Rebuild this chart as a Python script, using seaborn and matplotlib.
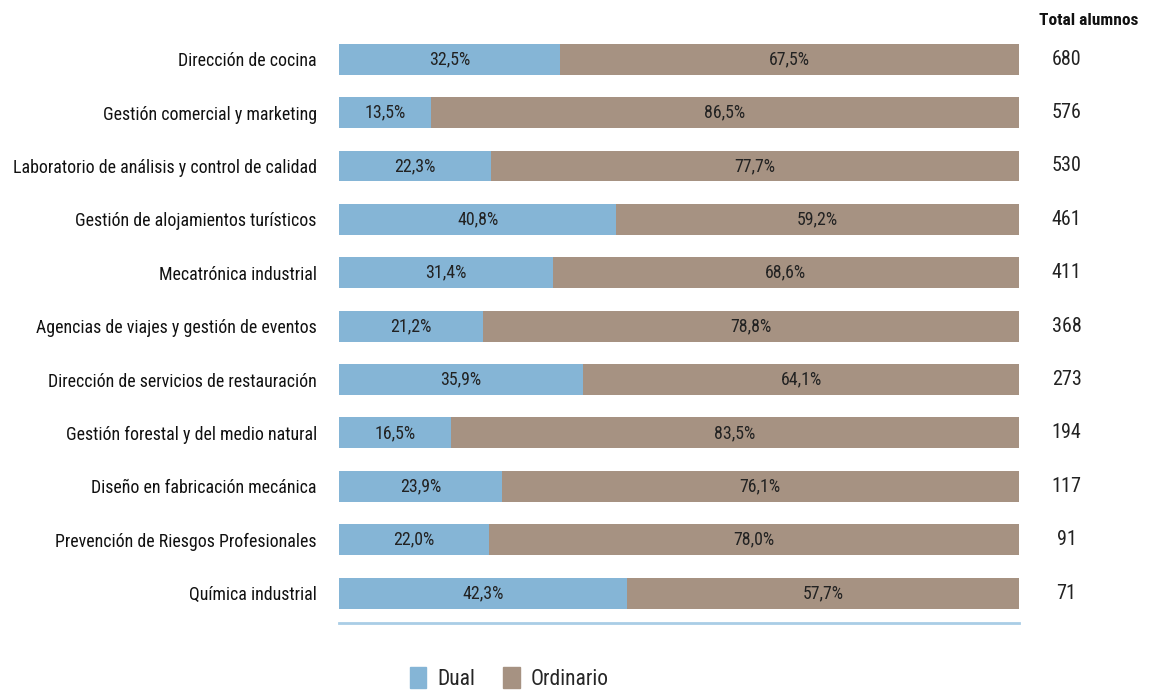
import matplotlib
matplotlib.use('Agg')
import matplotlib.pyplot as plt
import seaborn as sns
import pandas as pd
from matplotlib.patches import Patch

sns.set_style('white')
plt.rcParams['font.family'] = ['Roboto Condensed', 'DejaVu Sans']

categorias = ['Dirección de cocina', 'Gestión comercial y marketing',
              'Laboratorio de análisis y control de calidad',
              'Gestión de alojamientos turísticos', 'Mecatrónica industrial',
              'Agencias de viajes y gestión de eventos',
              'Dirección de servicios de restauración',
              'Gestión forestal y del medio natural',
              'Diseño en fabricación mecánica',
              'Prevención de Riesgos Profesionales', 'Química industrial']
dual = [32.5, 13.5, 22.3, 40.8, 31.4, 21.2, 35.9, 16.5, 23.9, 22.0, 42.3]
ordinario = [67.5, 86.5, 77.7, 59.2, 68.6, 78.8, 64.1, 83.5, 76.1, 78.0, 57.7]
total_alumnos = [680, 576, 530, 461, 411, 368, 273, 194, 117, 91, 71]

c_dual = '#85b5d6'
c_ord = '#a69282'

df = pd.DataFrame({'cat': categorias, 'dual': dual, 'ord': ordinario, 'total': total_alumnos})
df['suma'] = df['dual'] + df['ord']

fig = plt.figure(figsize=(11.57, 6.91), dpi=100)
ax = fig.add_axes([0.293, 0.0984, 0.5877, 0.8553])

sns.barplot(data=df, x='suma', y='cat', color=c_ord, width=0.58, saturation=1, linewidth=0, ax=ax)
sns.barplot(data=df, x='dual', y='cat', color=c_dual, width=0.58, saturation=1, linewidth=0, ax=ax)

fs = 12.9
for i, row in df.iterrows():
    ax.text(row['dual'] / 2, i, f"{row['dual']:.1f}%".replace('.', ','),
            ha='center', va='center', fontsize=fs, color='#222222')
    ax.text(row['dual'] + row['ord'] / 2, i, f"{row['ord']:.1f}%".replace('.', ','),
            ha='center', va='center', fontsize=fs, color='#222222')
    ax.text(107.0, i, str(row['total']), ha='center', va='center', fontsize=14.5, color='#222222')

fig.text(0.984, 0.97, 'Total alumnos', ha='right', va='center', fontsize=12.5, fontweight='bold', color='#111111')

ax.set_xlim(0, 100)
ax.set_ylim(10.56, -0.51)
ax.set_xlabel('')
ax.set_ylabel('')
ax.set_xticks([])
ax.tick_params(axis='y', length=0, pad=16, labelsize=fs, labelcolor='#111111')
for s in ['top', 'right', 'left']:
    ax.spines[s].set_visible(False)
ax.spines['bottom'].set_color('#a9cde6')
ax.spines['bottom'].set_linewidth(2)

handles = [Patch(color=c_dual, label='Dual'), Patch(color=c_ord, label='Ordinario')]
fig.legend(handles=handles, loc='center', bbox_to_anchor=(0.44, 0.018), ncol=2, frameon=False,
           fontsize=15.5, handlelength=0.78, handleheight=1.12, columnspacing=1.3, handletextpad=0.5)

fig.savefig('out.png', dpi=100)
